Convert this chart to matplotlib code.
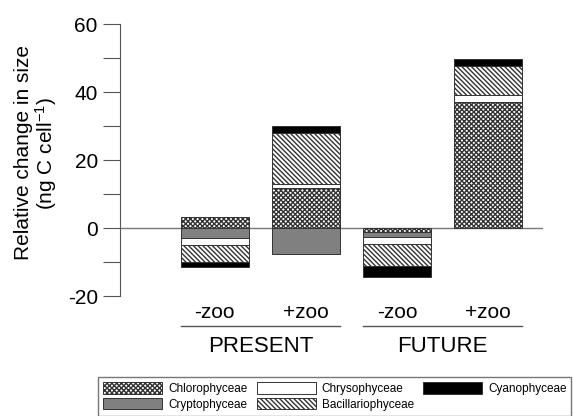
import numpy as np
import matplotlib.pyplot as plt
from matplotlib.patches import Patch

plt.rcParams['font.family'] = ['Liberation Sans', 'DejaVu Sans']
plt.rcParams['mathtext.fontset'] = 'custom'
plt.rcParams['mathtext.rm'] = 'Liberation Sans'
plt.rcParams['mathtext.it'] = 'Liberation Sans'
plt.rcParams['hatch.linewidth'] = 1.0

# relative change in cell size per treatment (ng C cell-1)
treatments = ['-zoo', '+zoo', '-zoo', '+zoo']
scenarios = ['PRESENT', 'FUTURE']
groups = ['Chlorophyceae', 'Cryptophyceae', 'Chrysophyceae',
          'Bacillariophyceae', 'Cyanophyceae']
chloro = [3.1, 11.7, -1.2, 37.2]
crypto = [-2.9, -7.5, -1.3, 0.0]
chryso = [-2.2, 1.3, -2.3, 1.9]
bacill = [-4.8, 14.9, -6.4, 8.6]
cyano = [-1.7, 2.2, -3.1, 2.1]

styles = {
    'Chlorophyceae': dict(facecolor='white', hatch='x' * 7),
    'Cryptophyceae': dict(facecolor='#808080', hatch=None),
    'Chrysophyceae': dict(facecolor='white', hatch=None),
    'Bacillariophyceae': dict(facecolor='white', hatch='\\' * 7),
    'Cyanophyceae': dict(facecolor='black', hatch=None),
}

fig = plt.figure(figsize=(5.73, 4.16), dpi=100)
ax = fig.add_axes([120 / 573, 1 - 296 / 416, 423 / 573, 272 / 416])

x = np.arange(len(treatments))
width = 0.75
pos_base = np.zeros(len(x))
neg_base = np.zeros(len(x))
for name, vals in zip(groups, [chloro, crypto, chryso, bacill, cyano]):
    vals = np.array(vals)
    base = np.where(vals >= 0, pos_base, neg_base)
    ax.bar(x, vals, width, bottom=base, edgecolor='#333333', linewidth=0.7,
           **styles[name])
    pos_base += np.clip(vals, 0, None)
    neg_base += np.clip(vals, None, 0)

ax.axhline(0, color='#777777', linewidth=1, zorder=0)

ax.set_xlim(-1.04, 3.6)
ax.set_ylim(-20, 60)
ax.set_yticks(np.arange(-20, 61, 10))
ax.set_yticklabels([str(v) if v % 20 == 0 else '' for v in range(-20, 61, 10)])
ax.tick_params(axis='y', direction='out', length=12, width=0.8,
               color='#555555', labelsize=15, pad=4)
ax.set_xticks([])
for side in ['top', 'right', 'bottom']:
    ax.spines[side].set_visible(False)
ax.spines['left'].set_color('#555555')
ax.spines['left'].set_linewidth(0.8)

fig.text(0.064, 1 - 153 / 416,
         'Relative change in size\n(ng C cell$^{-1}$)',
         rotation=90, ha='center', va='center', fontsize=15,
         multialignment='center', linespacing=1.0)

# treatment and scenario labels under the bars
trans = ax.get_xaxis_transform()
for xi, lab in zip(x, treatments):
    ax.text(xi, -0.0625, lab, transform=trans, ha='center', va='center',
            fontsize=15)
for i, scen in enumerate(scenarios):
    left = x[2 * i] - width / 2
    right = x[2 * i + 1] + width / 2
    ax.plot([left, right], [-0.11, -0.11], transform=trans, color='#555555',
            linewidth=1, clip_on=False)
    ax.text((left + right) / 2, -0.185, scen, transform=trans, ha='center',
            va='center', fontsize=16)

handles = [Patch(edgecolor='#333333', linewidth=0.7, label=name, **styles[name])
           for name in groups]
leg = fig.legend(handles=handles, loc='upper left',
                 bbox_to_anchor=(98 / 573, 1 - 377 / 416), ncol=3,
                 fontsize=8.5, fancybox=False, edgecolor='#777777',
                 framealpha=1, handlelength=5.0, handleheight=1.15,
                 borderpad=0.42, labelspacing=0.25, handletextpad=0.5,
                 columnspacing=0.8, borderaxespad=0)
leg.get_frame().set_linewidth(1)

fig.savefig('out.png', dpi=100)
